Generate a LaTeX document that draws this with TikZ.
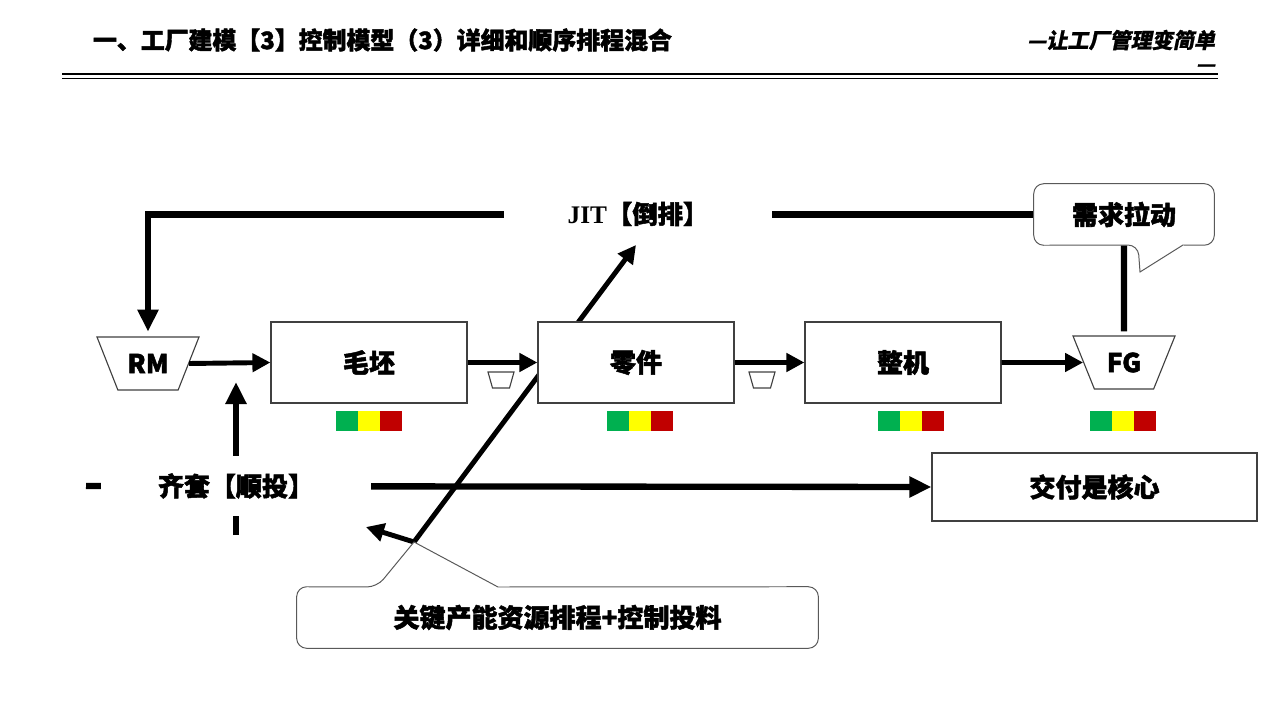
\documentclass[tikz,border=0pt]{standalone}
\usepackage{fontspec}
\setmainfont{Liberation Serif}
\newfontfamily\cjk{Noto Sans CJK SC}[BoldFeatures={FakeBold=1.8}]
\newfontfamily\cjkslant{Noto Sans CJK SC}[FakeSlant=0.2,BoldFeatures={FakeBold=0.8}]
\usetikzlibrary{positioning,shapes.geometric,arrows.meta}
\definecolor{LampGreen}{HTML}{00B050}
\definecolor{LampYellow}{HTML}{FFFF00}
\definecolor{LampRed}{HTML}{C00000}
\definecolor{EdgeGray}{HTML}{404040}
\definecolor{NoteGray}{HTML}{595959}

\begin{document}
\begin{tikzpicture}[x=0.025cm,y=-0.025cm,node distance=0pt]
  \tikzstyle{label}=[font=\cjk\bfseries\fontsize{18.5}{20}\selectfont]
  \tikzstyle{stagebox}=[label,draw=EdgeGray,fill=white,line width=0.8pt,
    minimum width=4.9cm,minimum height=2.025cm]
  \tikzstyle{store}=[label,shape=trapezium,trapezium left angle=126,
    trapezium right angle=126,trapezium stretches body,draw=EdgeGray,
    fill=white,line width=0.8pt,minimum width=2.55cm,minimum height=1.325cm]
  \tikzstyle{bufline}=[draw=EdgeGray,line width=0.8pt]
  \tikzstyle{lamp}=[minimum width=0.55cm,minimum height=0.5cm,inner sep=0pt,
    outer sep=0pt]
  \tikzstyle{note}=[label,minimum height=1.525cm]
  \tikzstyle{noteline}=[draw=NoteGray,fill=white,line width=0.7pt]
  \tikzstyle{flow}=[line width=3.5pt,-{Triangle[length=0.45cm,width=0.45cm]}]
  \tikzstyle{link}=[line width=4.5pt,-{Triangle[length=0.55cm,width=0.5cm]}]
  \useasboundingbox (0,0) rectangle (1280,720);

  % heading
  \node[anchor=west,font=\cjk\bfseries\fontsize{17}{19}\selectfont] (title) at (88,40)
    {一、工厂建模【3】控制模型（3）详细和顺序排程混合};
  \node[anchor=east,font=\cjkslant\bfseries\fontsize{15}{17}\selectfont] (motto) at (1220,40)
    {—让工厂管理变简单};
  \node[anchor=east,font=\cjkslant\bfseries\fontsize{15}{17}\selectfont] (motto2) at (1220,68) {—};
  \draw[line width=1.6pt] (62,74) -- (1218,74);
  \draw[line width=1pt] (62,78.5) -- (1218,78.5);

  \coordinate (plantip) at (414,542);
  \coordinate (jittip) at (636,245);
  \coordinate (kitback) at (366,527);
  \coordinate (kitleft) at (86,486);
  \coordinate (kitfoot) at (236,535);
  \coordinate (kittop) at (236,382);
  \coordinate (lampline) at (0,421);
  \coordinate (buf1) at (501,380);
  \coordinate (buf2) at (762,380);

  % planning arrow runs behind the part box
  \draw[line width=3.5pt,-{Triangle[length=0.45cm,width=0.45cm]}] (plantip) -- (jittip);

  % material flow
  \node[store] (rm) at (148,363.5) {RM};
  \node[stagebox] (blank) at (369,362.5) {毛坯};
  \node[stagebox] (part) at (636,362.5) {零件};
  \node[stagebox] (assy) at (903,362.5) {整机};
  \node[store] (fg) at (1124,362.5) {FG};
  \node[stagebox,minimum width=8.125cm,minimum height=1.7cm] (deliver) at (1094.5,487) {交付是核心};

  % small buffers between stages
  \draw[bufline] (buf1) +(-13,-8) -- +(13,-8) -- +(8.5,8) -- +(-8.5,8) -- cycle;
  \draw[bufline] (buf2) +(-13,-8) -- +(13,-8) -- +(8.5,8) -- +(-8.5,8) -- cycle;

  \draw[flow] (rm.east) -- (blank.west);
  \draw[flow] (blank.east) -- (part.west);
  \draw[flow] (part.east) -- (assy.west);
  \draw[flow] (assy.east) -- (fg.west);

  \foreach \nm/\dx in {blank/0,part/4,assy/8,fg/-1}{
    \node[lamp,fill=LampYellow] (\nm-y) at ([xshift=\dx*0.025cm]\nm |- lampline) {};
    \node[lamp,fill=LampGreen,left=of \nm-y] (\nm-g) {};
    \node[lamp,fill=LampRed,right=of \nm-y] (\nm-r) {};
  }

  % callouts
  \node[note,minimum width=4.5cm] (pull) at (1124,214.5) {需求拉动};
  \node[note,minimum width=13.025cm] (plan) at (557.5,617.5) {关键产能资源排程+控制投料};

  \draw[link] (pull.west) -- (rm.north |- pull.west) -- ([yshift=0.12cm]rm.north);
  \draw[line width=4.5pt,shorten <=0.1cm] (fg.north) -- (pull.south);
  \draw[link] (kitleft) -- (deliver.west);
  \draw[link] (kitfoot) -- (kittop);
  \draw[flow] (plantip) -- (kitback);

  \draw[noteline] (1140,272) -- (1183,245) [rounded corners=0.25cm] -- (pull.south east)
    -- (pull.north east) -- (pull.north west) -- (pull.south west) -- (1138,245)
    [sharp corners] -- cycle;
  \draw[noteline] (plantip) -- (498,587) [rounded corners=0.25cm] -- (plan.north east)
    -- (plan.south east) -- (plan.south west) -- (plan.north west) -- (377,587)
    [sharp corners] -- cycle;
  \node[label] at (pull) {需求拉动};
  \node[label] at (plan) {关键产能资源排程+控制投料};

  % labels sitting on the long lines
  \node[fill=white,minimum width=6.675cm,minimum height=1cm] (jit) at (638,214)
    {\fontsize{18}{20}\selectfont\bfseries JIT{\cjk【倒排】}};
  \node[label,fill=white,minimum width=6.725cm,minimum height=1.5cm] (kit) at (236,486)
    {齐套【顺投】};
\end{tikzpicture}
\end{document}
